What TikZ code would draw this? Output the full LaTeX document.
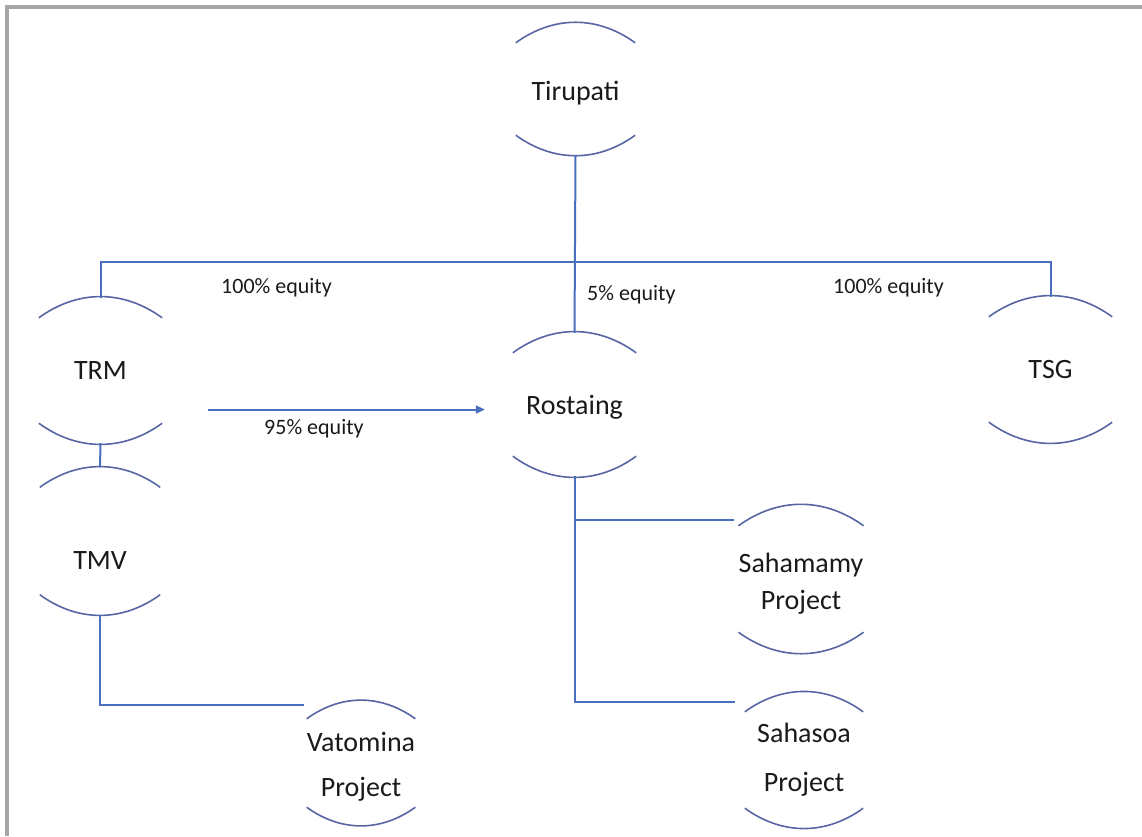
\documentclass[tikz,border=0pt]{standalone}
\usepackage{fontspec}
\setmainfont{Carlito}
\usetikzlibrary{arrows.meta}
\definecolor{linec}{HTML}{4A6FBE}
\definecolor{arcc}{HTML}{5865A3}
\definecolor{framec}{HTML}{A6A6A6}
\definecolor{txt}{HTML}{1A1A1A}
\tikzset{
  entity/.style={rectangle, inner sep=0pt, text=txt, font=\fontsize{28}{37}\selectfont, align=center},
  arcline/.style={draw=arcc, line width=1.6pt},
  conn/.style={draw=linec, line width=2pt},
  lbl/.style={font=\fontsize{22}{26}\selectfont, text=txt, inner sep=0pt, anchor=base west},
}
\newcommand\entityarcs[1]{%
  \draw[arcline] ([yshift=-20pt]#1.north west) to[bend left=36] ([yshift=-20pt]#1.north east);
  \draw[arcline] ([yshift=20pt]#1.south west) to[bend right=36] ([yshift=20pt]#1.south east);}
\begin{document}
\begin{tikzpicture}[x=1pt,y=-1pt]
\useasboundingbox (0,0) rectangle (1142,836);
\fill[white] (0,0) rectangle (1142,836);
\draw[framec, line width=4pt] (7,836) -- (7,7) -- (1142,7);

% entities
\node[entity, minimum width=119pt, minimum height=132pt, text height=22pt, text depth=0pt] (Tirupati) at (575.5,89) {Tirupati};
\node[entity, minimum width=123pt, minimum height=145pt] (TRM) at (100.5,370.5) {TRM};
\node[entity, minimum width=123pt, minimum height=145pt] (TSG) at (1050.5,369.5) {TSG};
\node[entity, minimum width=123pt, minimum height=143pt, text height=19pt, text depth=0pt] (Rostaing) at (574.5,404.5) {Rostaing};
\node[entity, minimum width=120pt, minimum height=147pt, text height=56pt, text depth=0pt] (TMV) at (100,541) {TMV};
\node[entity, minimum width=108pt, minimum height=128pt, text height=66pt, text depth=0pt] (Vatomina) at (361,763) {Vatomina\\[8pt]Project};
\node[entity, minimum width=124pt, minimum height=146pt, text height=60pt, text depth=0pt] (Sahamamy) at (801,579) {Sahamamy\\Project};
\node[entity, minimum width=118pt, minimum height=136pt] (Sahasoa) at (804,760) {Sahasoa\\[12pt]Project};

\entityarcs{Tirupati}
\entityarcs{TRM}
\entityarcs{TSG}
\entityarcs{Rostaing}
\entityarcs{TMV}
\entityarcs{Vatomina}
\entityarcs{Sahamamy}
\entityarcs{Sahasoa}

% connectors
\coordinate (bus) at (0,262);
\draw[conn] (Tirupati.south) -- (Rostaing.north);
\draw[conn] (TRM.north) |- (TSG.north |- bus) -- (TSG.north);
\draw[conn] (TRM.south) -- (TMV.north);
\draw[conn, shorten >=3pt] (TMV.south) |- ([yshift=-6pt]Vatomina.north west);
\draw[conn, shorten >=4pt] (Rostaing.south) |- ([yshift=-14pt]Sahamamy.north west);
\draw[conn, shorten >=10pt] (Rostaing.south) |- ([yshift=-10pt]Sahasoa.north west);
\draw[conn, -{Triangle[length=9pt,width=8pt]}, shorten <=46pt, shorten >=28pt]
  ([yshift=-5pt]TRM.east |- Rostaing.west) -- ([yshift=-5pt]Rostaing.west);

% labels
\node[lbl] (l1) at (221,293) {100\% equity};
\node[lbl] (l2) at (587,300) {5\% equity};
\node[lbl] (l3) at (833,293) {100\% equity};
\node[lbl] (l4) at (264,434) {95\% equity};
\end{tikzpicture}
\end{document}
